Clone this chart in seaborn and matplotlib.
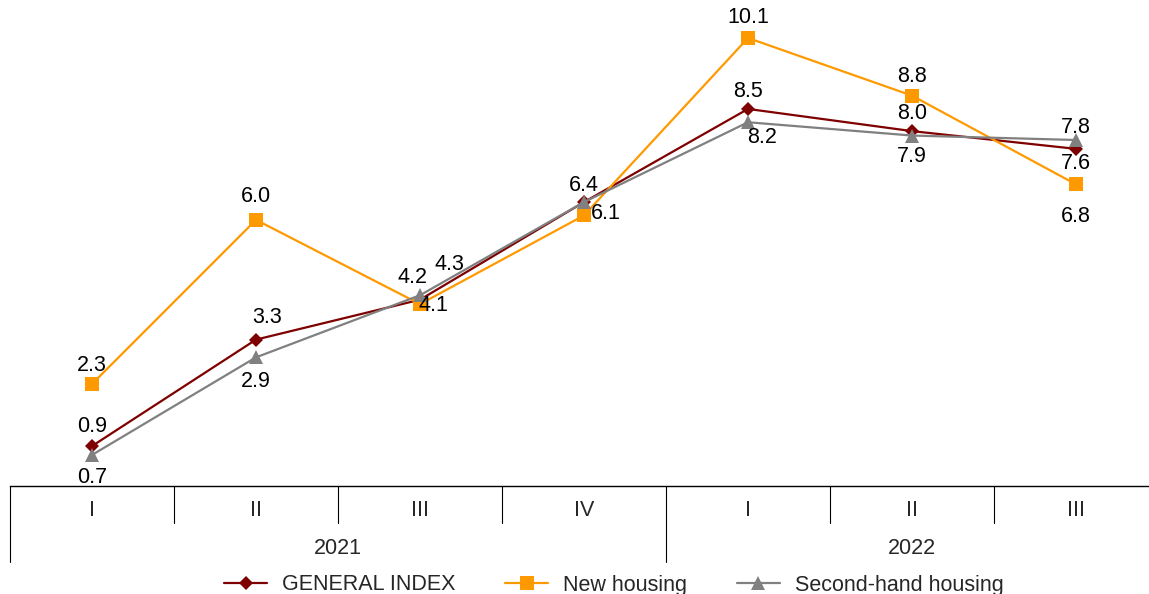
import matplotlib
matplotlib.use("Agg")
import matplotlib.pyplot as plt
import matplotlib.transforms as mtransforms
import numpy as np
import pandas as pd
import seaborn as sns

# data
quarters = ["I", "II", "III", "IV", "I", "II", "III"]
years = ["2021", "2022"]
year_spans = [(0, 3), (4, 6)]
general_index = [0.9, 3.3, 4.2, 6.4, 8.5, 8.0, 7.6]
new_housing = [2.3, 6.0, 4.1, 6.1, 10.1, 8.8, 6.8]
second_hand = [0.7, 2.9, 4.3, 6.4, 8.2, 7.9, 7.8]

series_names = ["GENERAL INDEX", "New housing", "Second-hand housing"]
series_values = [general_index, new_housing, second_hand]

sns.set_style("white")
plt.rcParams["font.family"] = ["Liberation Sans", "DejaVu Sans"]

colors = ["#7f0000", "#ff9900", "#808080"]
markers = ["D", "s", "^"]
msizes = [7.5, 10, 10]
fs = 15.5

# label offsets in pixels (dx, dy) for each point; None = no label
offsets = [
    [(0, 20), (11, 22), (-7, 22), (0, 17), (0, 17), (0, 18), (0, -15)],
    [(0, 18), (0, 23), (13, -1), (22, 2), (0, 20), (0, 19), (0, -32)],
    [(0, -23), (0, -24), (29, 31), None, (14, -15), (0, -21), (0, 12)],
]

fig = plt.figure(figsize=(11.49, 5.94), dpi=100)
W, H = 1149, 594
px_per_unit = 44.36
y0 = 486
ax_top = y0 - 11 * px_per_unit
ax = fig.add_axes([10 / W, 1 - y0 / H, 1148 / W, (y0 - ax_top) / H])

pos = np.arange(len(quarters))
for name, vals, c, m, ms in zip(series_names, series_values, colors, markers, msizes):
    df = pd.DataFrame({"pos": pos, "value": vals})
    sns.lineplot(data=df, x="pos", y="value", ax=ax, color=c, marker=m,
                 markersize=ms, markeredgewidth=0, linewidth=1.6,
                 label=name, legend=False, clip_on=False)

px = 72 / 100
for vals, offs in zip(series_values, offsets):
    for x, v, o in zip(pos, vals, offs):
        if o is None:
            continue
        ax.annotate(f"{v:.1f}", (x, v), xytext=(o[0] * px, o[1] * px),
                    textcoords="offset points", ha="center", va="center",
                    fontsize=fs, color="black", annotation_clip=False)

ax.set_xlim(-0.5, 6.5)
ax.set_ylim(0, 11)
ax.set_xlabel("")
ax.set_ylabel("")
ax.set_xticks([])
ax.set_yticks([])
for s in ["top", "right", "left"]:
    ax.spines[s].set_visible(False)
ax.spines["bottom"].set_color("black")
ax.spines["bottom"].set_linewidth(1.0)

# category axis
tr = mtransforms.blended_transform_factory(ax.transData, fig.transFigure)
fy = lambda p: 1 - p / H
for b in np.arange(-0.5, 7, 1.0):
    long = b in (-0.5, 3.5)
    ax.plot([b, b], [fy(486), fy(562 if long else 523)], transform=tr,
            color="black", linewidth=0.8, clip_on=False)
for x, q in zip(pos, quarters):
    ax.text(x, fy(510), q, transform=tr, ha="center", va="center", fontsize=fs)
for (a, b), yr in zip(year_spans, years):
    ax.text((a + b) / 2, fy(548), yr, transform=tr, ha="center", va="center", fontsize=fs)

handles, labels = ax.get_legend_handles_labels()
fig.legend(handles, labels, loc="center", bbox_to_anchor=(614 / W, 1 - 585 / H),
           ncol=3, frameon=False, fontsize=fs, handlelength=2.0,
           handletextpad=0.7, columnspacing=2.3)

fig.savefig("out.png", dpi=100)
